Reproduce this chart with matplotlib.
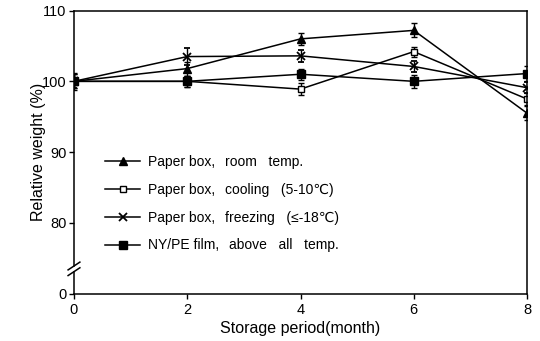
import matplotlib
matplotlib.use("Agg")
import matplotlib.pyplot as plt

plt.rcParams['font.family'] = ['Liberation Sans', 'DejaVu Sans']

months = [0, 2, 4, 6, 8]
room = [100.0, 101.8, 106.0, 107.2, 95.5]
room_err = [1.0, 1.0, 0.9, 1.0, 1.0]
cooling = [100.0, 100.0, 98.9, 104.2, 97.5]
cooling_err = [1.0, 0.8, 0.9, 0.7, 0.9]
freezing = [100.0, 103.5, 103.6, 102.1, 99.1]
freezing_err = [1.0, 1.2, 0.8, 0.8, 0.8]
film = [100.0, 100.0, 101.0, 100.0, 101.1]
film_err = [1.2, 0.8, 0.8, 0.9, 1.0]

labels_main = ["Paper box,", "Paper box,", "Paper box,", "NY/PE film,"]
labels_sub = ["room   temp.", "cooling   (5-10\u2103)", "freezing   (\u2264-18\u2103)", "above   all   temp."]
xticks = [0, 2, 4, 6, 8]
yticks = [70, 80, 90, 100, 110]
yticklabels = ["0", "80", "90", "100", "110"]

fig = plt.figure(figsize=(5.4, 3.41), dpi=100)
ax = fig.add_axes([0.137, 0.139, 0.839, 0.830])

series = [
    (room, room_err, dict(marker='^', mfc='black', ms=6)),
    (cooling, cooling_err, dict(marker='s', mfc='white', ms=5)),
    (freezing, freezing_err, dict(marker='x', mfc='black', ms=6, mew=1.3)),
    (film, film_err, dict(marker='s', mfc='black', ms=6)),
]
handles = []
for vals, errs, st in series:
    eb = ax.errorbar(months, vals, yerr=errs, color='black', lw=1.1, capsize=2.5,
                     elinewidth=1.0, capthick=1.0, mec='black', **st)
    handles.append(eb[0])

ax.set_xlim(0, 8)
ax.set_ylim(70, 110)
ax.set_xticks(xticks)
ax.set_xticklabels([str(t) for t in xticks], fontsize=10.5)
ax.set_yticks(yticks)
ax.set_yticklabels(yticklabels, fontsize=10.5)
ax.tick_params(direction='out', length=3.5, width=1, pad=2, colors='black')
ax.tick_params(axis='x', pad=3)

for s in ['top', 'right', 'bottom']:
    ax.spines[s].set_linewidth(1.1)
ax.spines['left'].set_visible(False)

# broken left axis
ytr = ax.get_yaxis_transform()
ax.plot([0, 0], [70, 73.1], color='black', lw=1.1, transform=ytr, clip_on=False)
ax.plot([0, 0], [73.9, 110], color='black', lw=1.1, transform=ytr, clip_on=False)
dx = 0.013
dy = 0.55
for yc in [73.9, 73.1]:
    ax.plot([-dx, dx], [yc - dy, yc + dy], color='black', lw=1.1, transform=ytr, clip_on=False)

ax.set_xlabel("Storage period(month)", fontsize=11.5, labelpad=3)
ax.set_ylabel("Relative weight (%)", fontsize=11.5)
ax.yaxis.set_label_coords(-0.062, 0.5)

leg = ax.legend(handles, labels_main, loc='upper left', bbox_to_anchor=(0.057, 0.51),
                frameon=False, fontsize=10, handlelength=2.5, handletextpad=0.6,
                labelspacing=1.0, borderaxespad=0)

fig.canvas.draw()
inv = fig.transFigure.inverted()
for t, sub in zip(leg.get_texts(), labels_sub):
    bb = t.get_window_extent()
    bx, by = t.get_transform().transform(t.get_position())
    fx, fy = inv.transform((bb.x1 + 9, by))
    fig.text(fx, fy, sub, fontsize=10, va='baseline', ha='left')

fig.savefig("out.png", dpi=100)
